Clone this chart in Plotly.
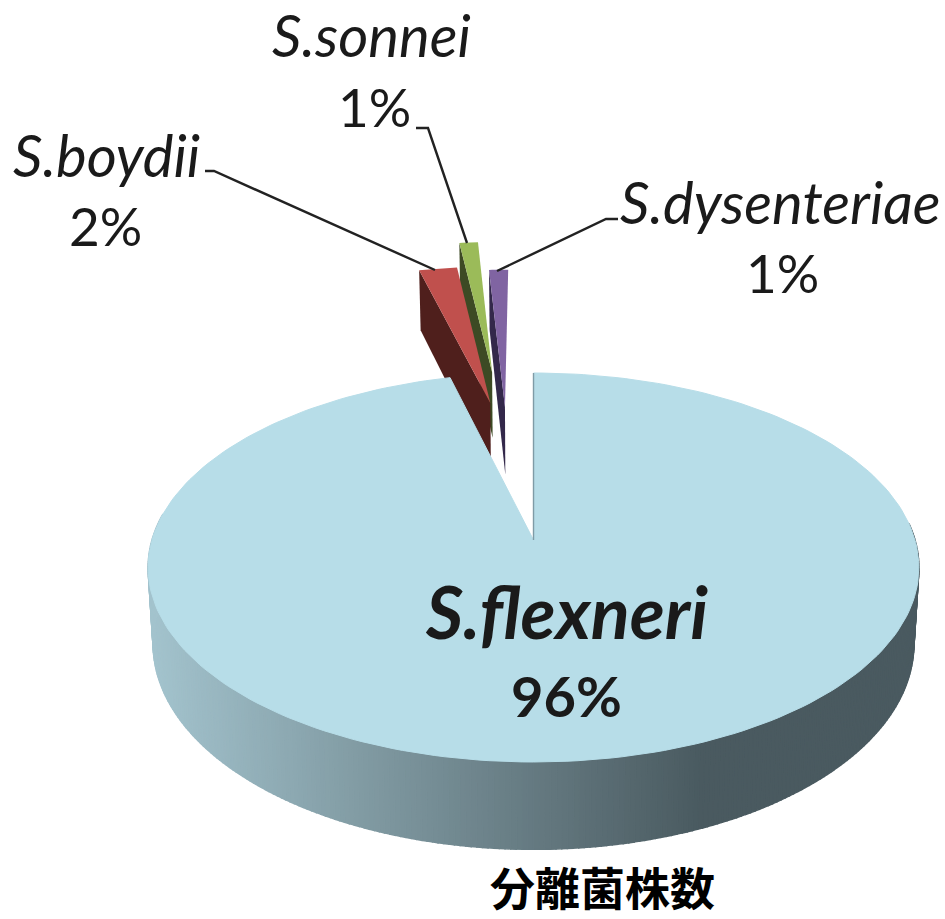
import math
import plotly.graph_objects as go

# ---- data ----
CATEGORIES = ["S.flexneri", "S.boydii", "S.sonnei", "S.dysenteriae"]
VALUES = [96, 2, 1, 1]
AXIS_TITLE = "分離菌株数"

# ---- styles / geometry ----
TOP_COLORS = ["#B7DDE8", "#C0504D", "#9BBB59", "#8064A2"]
WALL_COLORS = [None, "#4F1F1C", "#3D4A24", "#33284A"]
SIDE_LIGHT = (163, 195, 205)
SIDE_DARK = (74, 90, 96)
CX, CY = 533.5, 540.0       # centre of the disc on the page
RX, RY = 381.5, 190.6       # projected radii
PERSP = 0.1414              # perspective strength
DEPTH = 75.0                # thickness
BOTTOM_SHRINK = 0.987
OFFSETS = {1: (-0.126, 0.80), 2: (-0.124, 1.007), 3: (-0.083, 0.774)}  # pulled-out slices


def project(u, v, bottom=False):
    w = 1 + PERSP * v
    x = RX * u / w
    y = -RY * v / w
    if bottom:
        return CX + x * BOTTOM_SHRINK, CY + y + DEPTH / w
    return CX + x, CY + y


def rim(theta, off=(0, 0), bottom=False):
    t = math.radians(theta)
    return project(off[0] + math.sin(t), off[1] + math.cos(t), bottom)


def poly(fig, pts, color, lw=0.0):
    xs = [p[0] for p in pts] + [pts[0][0]]
    ys = [p[1] for p in pts] + [pts[0][1]]
    fig.add_trace(go.Scatter(x=xs, y=ys, mode="lines", fill="toself", fillcolor=color,
                             line=dict(color=color, width=lw), hoverinfo="skip", showlegend=False))


total = sum(VALUES)
angles = []
a = 0.0
for val in VALUES:
    angles.append((a, a + 360.0 * val / total))
    a += 360.0 * val / total

fig = go.Figure()

# pulled-out slices, back to front
for i in (3, 2, 1):
    a0, a1 = angles[i]
    off = OFFSETS[i]
    poly(fig, [rim(a0, off), project(*off), project(*off, True), rim(a0, off, True)], WALL_COLORS[i])
    steps = [a0 + (a1 - a0) * k / 6 for k in range(7)]
    poly(fig, [project(*off)] + [rim(t, off) for t in steps], TOP_COLORS[i])

# side of the main slice, shaded from left to right
N = 260
for k in range(N):
    t0 = 85 + (278 - 85) * k / N
    t1 = 85 + (278 - 85) * (k + 1) / N
    p0, p1 = rim(t0), rim(t1)
    q0, q1 = rim(t0, bottom=True), rim(t1, bottom=True)
    f = min(1.0, max(0.0, ((p0[0] + p1[0]) / 2 - 150) / (700 - 150)))
    c = tuple(round(SIDE_LIGHT[j] + (SIDE_DARK[j] - SIDE_LIGHT[j]) * f) for j in range(3))
    poly(fig, [p0, p1, q1, q0], "rgb(%d,%d,%d)" % c, 1.5)

# top of the main slice
a0, a1 = angles[0]
steps = [a0 + (a1 - a0) * k / 240 for k in range(241)]
poly(fig, [project(0, 0)] + [rim(t) for t in steps], TOP_COLORS[0], 1.0)

# thin inner wall along the gap
top_pt, apex = rim(0), project(0, 0)
fig.add_trace(go.Scatter(x=[top_pt[0], apex[0]], y=[top_pt[1], apex[1]], mode="lines",
                         line=dict(color="#7F9BA6", width=1.4), hoverinfo="skip", showlegend=False))

# leader lines
LEADERS = [
    [(205, 171), (214, 171), (435, 270)],
    [(416, 128), (428, 128), (467, 243)],
    [(618, 219), (606, 219), (497, 271)],
]
for line in LEADERS:
    fig.add_trace(go.Scatter(x=[p[0] for p in line], y=[p[1] for p in line], mode="lines",
                             line=dict(color="#222222", width=2.4), hoverinfo="skip", showlegend=False))

# labels
FONT = "Lato, 'Open Sans', sans-serif"
INK = "#1A1A1A"


def label(x, y, text, size, bold=False, italic=False, family=FONT, color=INK):
    body = text
    if italic:
        body = "<i>%s</i>" % body
    if bold:
        body = "<b>%s</b>" % body
    fig.add_annotation(x=x, y=y, text=body, showarrow=False, xref="x", yref="y",
                       xanchor="center", yanchor="middle",
                       font=dict(family=family, size=size, color=color))


pct = ["%d%%" % v for v in VALUES]
label(566, 611, CATEGORIES[0], 72, bold=True, italic=True)
label(566, 695, pct[0], 56, bold=True)
label(106, 154, CATEGORIES[1], 58, italic=True)
label(105, 225, pct[1], 53)
label(371, 34, CATEGORIES[2], 58, italic=True)
label(374, 106, pct[2], 53)
label(780, 201, CATEGORIES[3], 58, italic=True)
label(782, 272, pct[3], 53)
label(602, 886, AXIS_TITLE, 45, bold=True, family="'Noto Sans CJK JP', sans-serif", color="#000000")

fig.update_layout(
    width=945, height=919, margin=dict(l=0, r=0, t=0, b=0),
    paper_bgcolor="white", plot_bgcolor="white", showlegend=False,
    xaxis=dict(range=[0, 945], visible=False, fixedrange=True),
    yaxis=dict(range=[919, 0], visible=False, fixedrange=True),
)
fig.write_html("out.html", config=dict(displayModeBar=False),
               post_script="document.body.style.margin='0';document.documentElement.style.overflow='hidden';")
